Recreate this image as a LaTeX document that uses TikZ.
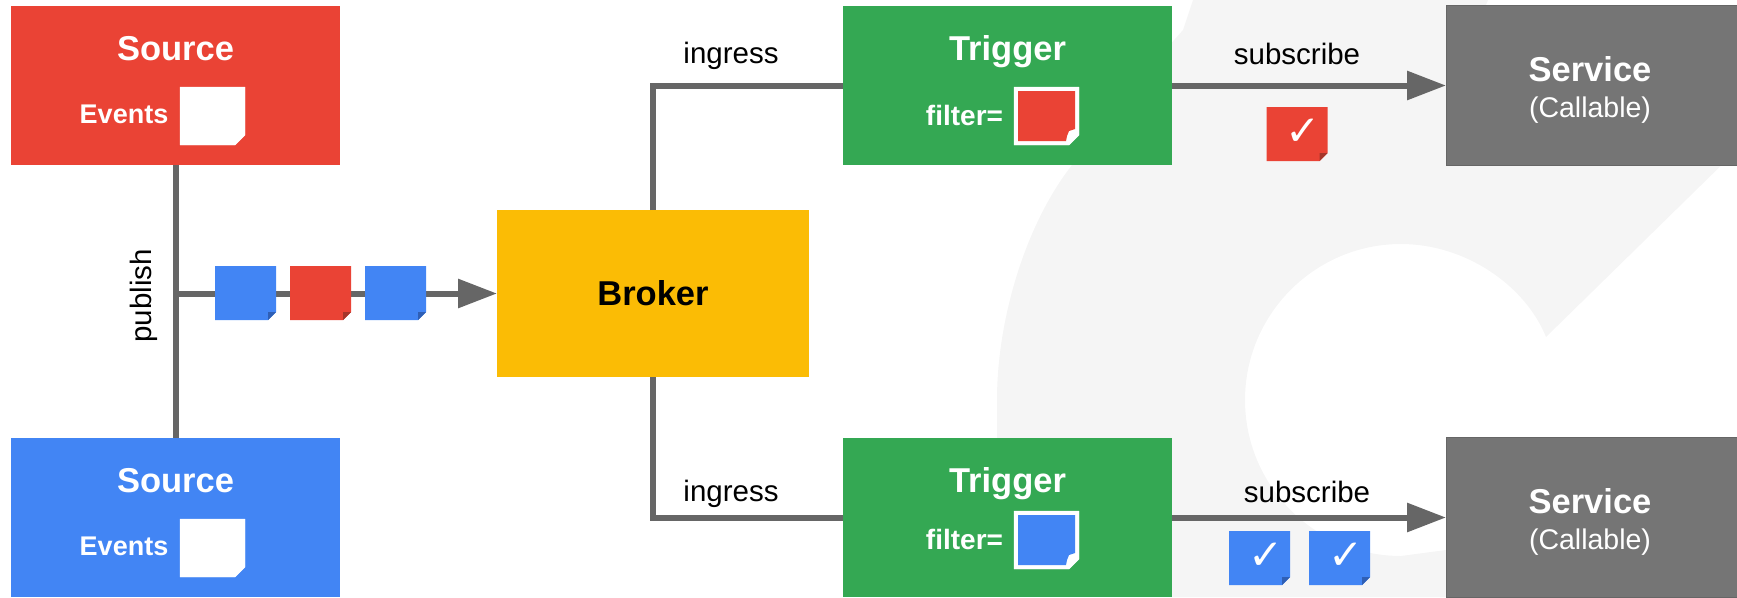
\documentclass[tikz,border=0pt]{standalone}
\usepackage{fontspec}
\setmainfont{Liberation Sans}
\newfontfamily\checkfont{DejaVu Sans}
\usetikzlibrary{arrows.meta}
\definecolor{gred}{HTML}{EA4335}
\definecolor{gblue}{HTML}{4285F4}
\definecolor{ggreen}{HTML}{34A853}
\definecolor{gyellow}{HTML}{FBBC05}
\definecolor{ggrey}{HTML}{757575}
\definecolor{lineg}{HTML}{666666}
\definecolor{bgg}{HTML}{F5F5F5}
\definecolor{foldred}{HTML}{A5352A}
\definecolor{foldblue}{HTML}{2F5FB5}
\tikzset{
  box/.style={inner sep=0pt,outer sep=0pt,minimum width=329pt,minimum height=159pt},
  conn/.style={draw=lineg,line width=6pt},
  arrowed/.style={-{Triangle[length=39pt,width=28pt]}},
  title/.style={anchor=base,text=white,font=\fontsize{34.5}{40}\selectfont\bfseries,inner sep=0pt},
  sub/.style={anchor=base,text=white,font=\fontsize{27}{32}\selectfont\bfseries,inner sep=0pt},
  lab/.style={anchor=base,text=black,font=\fontsize{29.5}{34}\selectfont,inner sep=0pt},
  callable/.style={anchor=base,text=white,font=\fontsize{28.5}{34}\selectfont,inner sep=0pt},
  noteshape/.style={inner sep=0pt,outer sep=0pt,minimum width=61pt,minimum height=54pt,anchor=north west},
  bignote/.style={inner sep=0pt,outer sep=0pt,minimum width=65pt,minimum height=58pt,anchor=north west},
  tick/.style={text=white,inner sep=0pt,font=\checkfont\fontsize{42}{46}\selectfont,xshift=6.5pt,yshift=2pt}
}
% coloured note with a dark folded corner
\newcommand\foldnote[5]{%
  \node[noteshape] (#1) at (#2) {};
  \fill[#3] (#1.north west) -- (#1.north east) -- ([yshift=8pt]#1.south east)
    -- ([xshift=-8pt]#1.south east) -- (#1.south west) -- cycle;
  \fill[#4] ([yshift=8pt]#1.south east) -- ([xshift=-8pt]#1.south east)
    -- ([xshift=-8pt,yshift=8pt]#1.south east) -- cycle;
  \node[tick] at (#1) {#5};
}
% white note
\newcommand\whitenote[2]{%
  \node[bignote] (#1) at (#2) {};
  \fill[white,draw=white,line width=0.4pt,line join=round] (#1.north west) -- (#1.north east) -- ([yshift=10pt]#1.south east)
    -- ([xshift=-10pt]#1.south east) -- (#1.south west) -- cycle;
}
% filter note: white frame, coloured inside, curled corner
\newcommand\filternote[3]{%
  \whitenote{#1}{#2}
  \fill[#3] ([xshift=4pt,yshift=-4pt]#1.north west) -- ([xshift=-4pt,yshift=-4pt]#1.north east)
    -- ([xshift=-4pt,yshift=16pt]#1.south east) -- ([xshift=-10pt,yshift=14pt]#1.south east)
    -- ([xshift=-12pt,yshift=9pt]#1.south east) -- ([xshift=-13pt,yshift=4pt]#1.south east)
    -- ([xshift=4pt,yshift=4pt]#1.south west) -- cycle;
}
\begin{document}
\begin{tikzpicture}[x=1pt,y=-1pt]
\useasboundingbox (0,0) rectangle (1737,597);
% background mark
\fill[bgg] (1193,0) -- (1183,30) -- (1090,135) -- (1072,165)
  .. controls (1025,225) and (997,320) .. (997,400)
  -- (997,597) -- (1446,597) -- (1446,550) -- (1401,556)
  .. controls (1315,556) and (1245,486) .. (1245,400)
  .. controls (1245,314) and (1315,244) .. (1401,244)
  .. controls (1465,244) and (1525,285) .. (1546,337)
  -- (1737,150) -- (1737,20) -- (1480,20) -- (1488,0) -- cycle;
% boxes
\node[box,fill=gred]  (src1) at (175.5,85.5) {};
\node[box,fill=gblue] (src2) at (175.5,517.5) {};
\node[box,fill=ggreen] (trg1) at (1007.5,85.5) {};
\node[box,fill=ggreen] (trg2) at (1007.5,517.5) {};
\node[box,fill=ggrey,draw=lineg,line width=1pt,minimum width=291pt,minimum height=160pt] (svc1) at (1591.5,85.5) {};
\node[box,fill=ggrey,draw=lineg,line width=1pt,minimum width=291pt,minimum height=160pt] (svc2) at (1591.5,517.5) {};
\node[box,fill=gyellow,minimum width=312pt,minimum height=167pt] (broker) at (653,293.5) {};
% connectors
\coordinate (junction) at (175.5,293.5);
\draw[conn] (src1) -- (src2);
\draw[conn,arrowed] (junction) -- (broker.west);
\draw[conn] (broker.north) |- (trg1.west);
\draw[conn] (broker.south) |- (trg2.west);
\draw[conn,arrowed] (trg1.east) -- (svc1.west);
\draw[conn,arrowed] (trg2.east) -- (svc2.west);
% box texts
\node[title] (t1) at (175.5,60) {Source};
\node[title] (t2) at (175.5,492) {Source};
\node[sub] (e1) at (124,123) {Events};
\node[sub] (e2) at (124,555) {Events};
\node[title] (t3) at (1007.5,60) {Trigger};
\node[title] (t4) at (1007.5,492) {Trigger};
\node[sub,font=\fontsize{28}{32}\selectfont\bfseries] (f1) at (964.5,125) {filter=};
\node[sub,font=\fontsize{28}{32}\selectfont\bfseries] (f2) at (964.5,549) {filter=};
\node[title,text=black] (t5) at (653,305) {Broker};
\node[title] (t6) at (1590,81) {Service};
\node[title] (t7) at (1590,513) {Service};
\node[callable] (c1) at (1590,117) {(Callable)};
\node[callable] (c2) at (1590,549) {(Callable)};
% connector labels
\node[lab] (l1) at (731,63.5) {ingress};
\node[lab] (l2) at (731,501.5) {ingress};
\node[lab] (l3) at (1297,64) {subscribe};
\node[lab] (l4) at (1307,502) {subscribe};
\node[lab,rotate=90] (l5) at (151,296) {publish};
% notes
\whitenote{n1}{180,87}
\whitenote{n2}{180,519}
\filternote{n3}{1014,87}{gred}
\filternote{n4}{1014,511}{gblue}
\foldnote{m1}{215,266}{gblue}{foldblue}{}
\foldnote{m2}{290,266}{gred}{foldred}{}
\foldnote{m3}{365,266}{gblue}{foldblue}{}
\foldnote{m4}{1266.5,107}{gred}{foldred}{✓}
\foldnote{m5}{1229,531}{gblue}{foldblue}{✓}
\foldnote{m6}{1309,531}{gblue}{foldblue}{✓}
\end{tikzpicture}
\end{document}
